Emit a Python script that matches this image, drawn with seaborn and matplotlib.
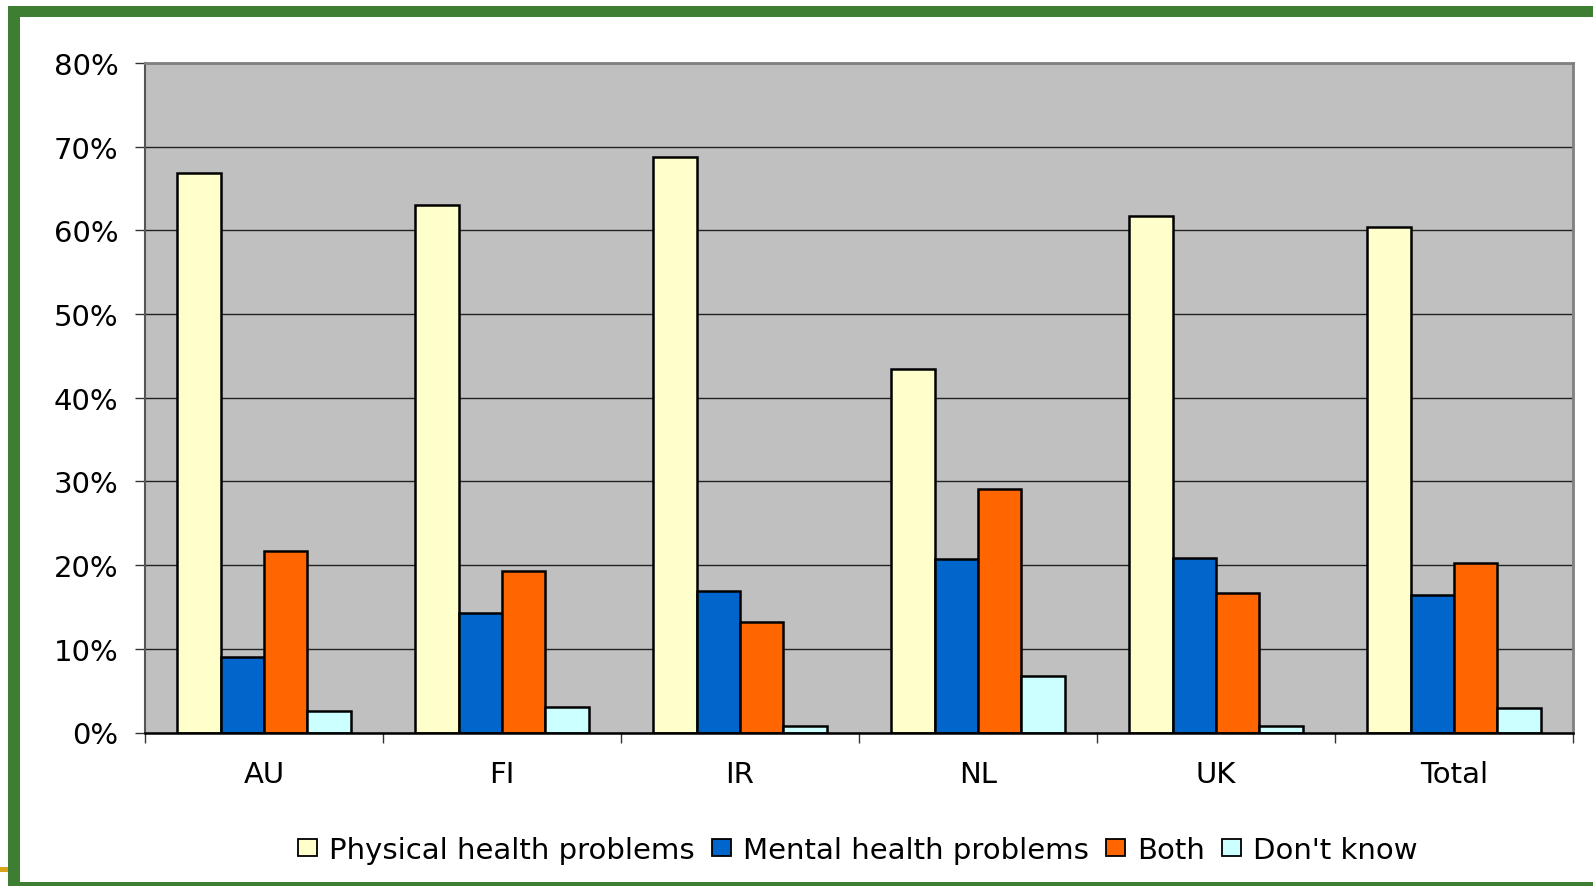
import matplotlib
matplotlib.use("Agg")
import matplotlib.pyplot as plt
from matplotlib.patches import Patch, Rectangle
from matplotlib.ticker import FixedLocator, PercentFormatter
import seaborn as sns
import pandas as pd

# ---- data ----
categories = ["AU", "FI", "IR", "NL", "UK", "Total"]
series_names = ["Physical health problems", "Mental health problems", "Both", "Don't know"]
physical = [66.8, 63.0, 68.8, 43.4, 61.7, 60.4]
mental = [9.0, 14.3, 16.9, 20.7, 20.9, 16.4]
both = [21.7, 19.3, 13.2, 29.1, 16.7, 20.2]
dont_know = [2.6, 3.1, 0.8, 6.8, 0.8, 2.9]
series_colors = ["#FFFFCC", "#0066CC", "#FF6600", "#CCFFFF"]
y_ticks = [0, 10, 20, 30, 40, 50, 60, 70, 80]

values = [physical, mental, both, dont_know]
rows = []
for name, vals in zip(series_names, values):
    for cat, v in zip(categories, vals):
        rows.append({"Country": cat, "Answer": name, "Value": v / 100.0})
df = pd.DataFrame(rows)
palette = dict(zip(series_names, series_colors))

sns.set_theme(style="white")
plt.rcParams["font.family"] = ["DejaVu Sans"]
plt.rcParams["text.color"] = "black"

W, H = 1593, 887
fig = plt.figure(figsize=(W / 100, H / 100), dpi=100)
fig.patch.set_facecolor("white")

ax = fig.add_axes([145 / W, 1 - 733.5 / H, (1573 - 145) / W, (733.5 - 64) / H])
ax.set_facecolor("#C0C0C0")

sns.barplot(data=df, x="Country", y="Value", hue="Answer", order=categories,
            hue_order=series_names, palette=palette, width=0.73,
            edgecolor="black", linewidth=1.8, errorbar=None, legend=False,
            saturation=1, ax=ax, zorder=3)

ax.set_xlim(-0.5, len(categories) - 0.5)
ax.set_ylim(0, 0.8)
ax.yaxis.set_major_locator(FixedLocator([t / 100 for t in y_ticks]))
ax.yaxis.set_major_formatter(PercentFormatter(1.0, decimals=0))
ax.yaxis.grid(True, color="#222222", linewidth=1.0, zorder=1)
ax.xaxis.grid(False)
ax.set_axisbelow(True)

ax.set_xlabel("")
ax.set_ylabel("")

ax.xaxis.set_minor_locator(FixedLocator([i - 0.5 for i in range(len(categories) + 1)]))
ax.tick_params(axis="x", which="major", length=0, pad=20, labelsize=21, colors="black")
ax.tick_params(axis="x", which="minor", length=7, width=1.0, color="#333333", direction="out")
ax.tick_params(axis="y", which="major", length=7, width=1.0, color="#333333",
               direction="out", pad=12, labelsize=21, labelcolor="black")
ax.tick_params(axis="both", which="both", bottom=True, left=True)

for side in ["top", "right"]:
    ax.spines[side].set_visible(True)
    ax.spines[side].set_color("#808080")
    ax.spines[side].set_linewidth(2.0)
ax.spines["left"].set_color("#555555")
ax.spines["left"].set_linewidth(1.5)
ax.spines["bottom"].set_color("black")
ax.spines["bottom"].set_linewidth(1.8)
for s in ax.spines.values():
    s.set_zorder(5)

handles = [Patch(facecolor=c, edgecolor="black", linewidth=1.3) for c in series_colors]
leg = ax.legend(handles, series_names, loc="center", bbox_to_anchor=(858 / W, 1 - 851 / H),
                bbox_transform=fig.transFigure, ncol=4, frameon=False, fontsize=21,
                handlelength=0.65, handleheight=0.55, handletextpad=0.4, columnspacing=0.6,
                borderpad=0)
for t in leg.get_texts():
    t.set_color("black")

# ---- green frame ----
green = "#3E7E32"
fig.patches.append(Rectangle((8 / W, 1 - 17.5 / H), 1 - 8 / W, 10.5 / H,
                             transform=fig.transFigure, facecolor=green, edgecolor="none", zorder=0))
fig.patches.append(Rectangle((8 / W, 0), 12 / W, 1 - 7 / H,
                             transform=fig.transFigure, facecolor=green, edgecolor="none", zorder=0))
fig.patches.append(Rectangle((8 / W, 0), 1 - 8 / W, 4.3 / H,
                             transform=fig.transFigure, facecolor=green, edgecolor="none", zorder=0))
fig.patches.append(Rectangle((0, 1 - 872.7 / H), 8 / W, 4.7 / H,
                             transform=fig.transFigure, facecolor="#D9A21B", edgecolor="none", zorder=0))

fig.savefig("out.png", dpi=100, facecolor="white")
